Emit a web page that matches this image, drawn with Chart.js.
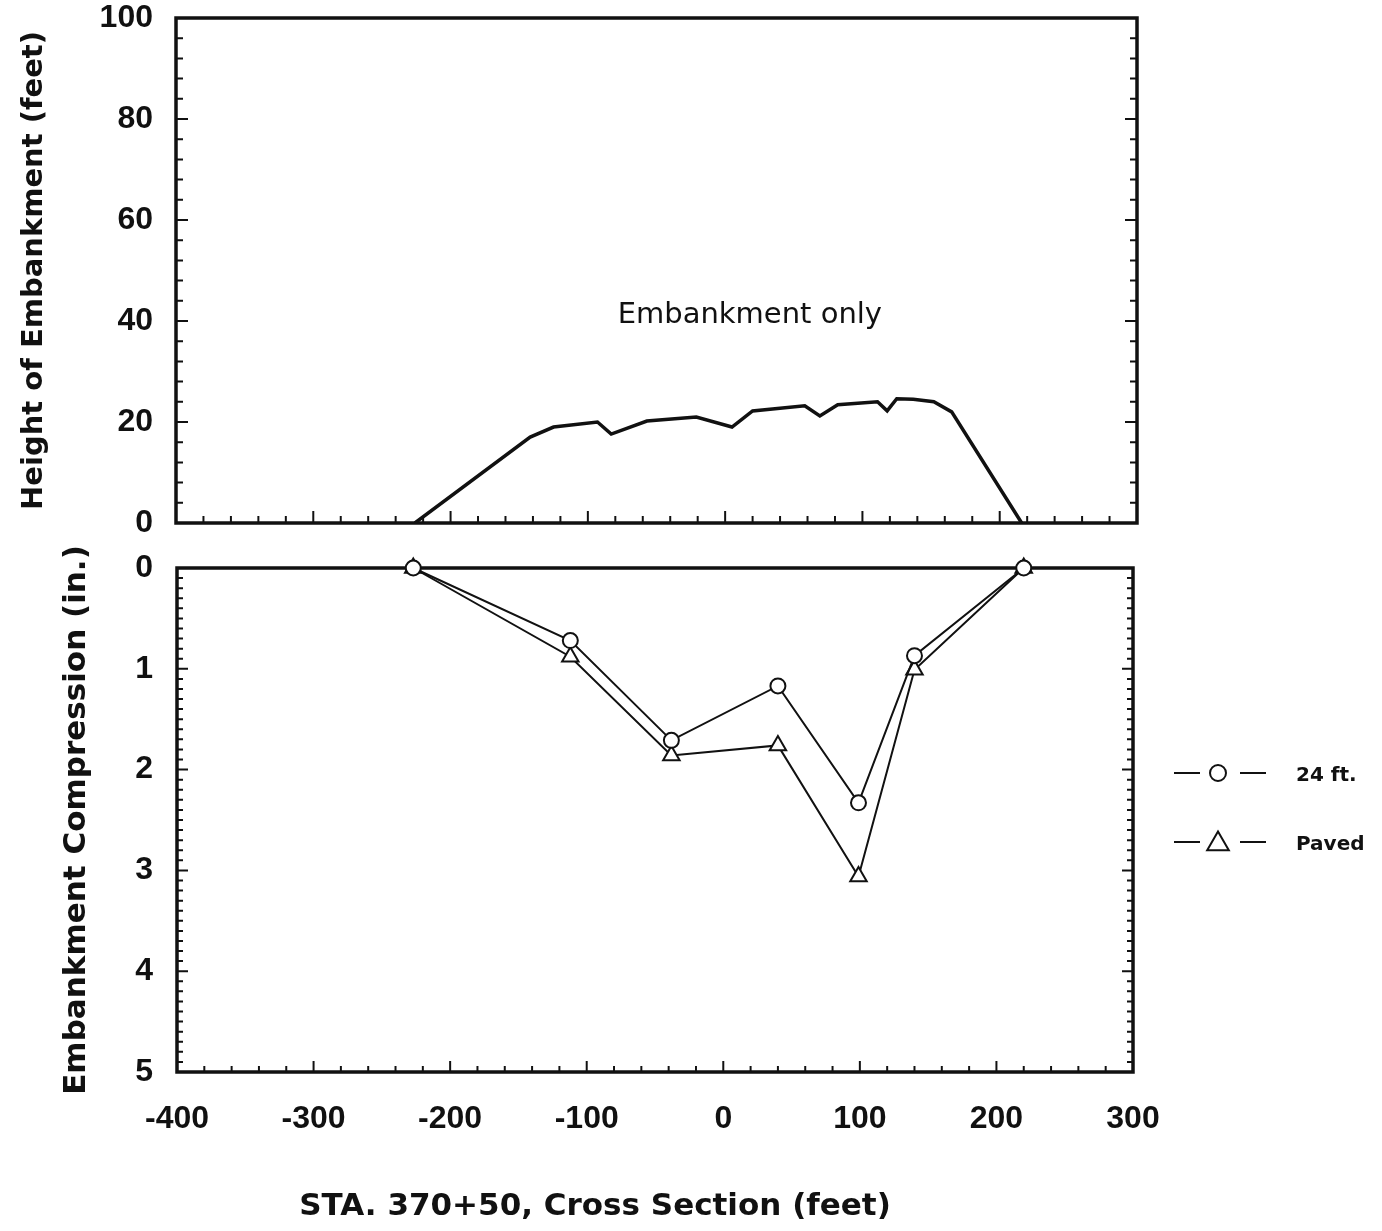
<!DOCTYPE html>
<html>
<head>
<meta charset="utf-8">
<title>STA. 370+50 Cross Section</title>
<script src="https://cdn.jsdelivr.net/npm/chart.js@4.4.1/dist/chart.umd.min.js"></script>
<style>
  html, body { margin: 0; padding: 0; background: #fff; }
  #wrap { position: relative; width: 1382px; height: 1231px; overflow: hidden; }
  canvas { position: absolute; left: 0; }
  #topChart { top: 0; }
  #bottomChart { top: 545px; }
</style>
</head>
<body>
<div id="wrap">
  <canvas id="topChart" width="1382" height="545"></canvas>
  <canvas id="bottomChart" width="1382" height="686"></canvas>
</div>
<script>
// --- data ---
// embankment profile (top panel)
const profileX = [-226, -142, -125, -93, -83, -57, -21, 5, 20, 58, 69, 82, 111, 118, 125, 137, 152, 165, 216];
const profileH = [0, 17.0, 19.0, 20.0, 17.6, 20.2, 21.0, 19.0, 22.2, 23.2, 21.2, 23.4, 24.0, 22.2, 24.6, 24.5, 24.0, 22.0, 0];

// compression (bottom panel)
const stations = [-227, -112, -38, 40, 99, 140, 220];
const comp24ft = [0, 0.72, 1.71, 1.17, 2.33, 0.87, 0];
const compPaved = [0, 0.88, 1.86, 1.76, 3.06, 1.01, 0];
const seriesNames = ['24 ft.', 'Paved'];

const xTicks = [-400, -300, -200, -100, 0, 100, 200, 300];
const heightTicks = [0, 20, 40, 60, 80, 100];
const compTicks = [0, 1, 2, 3, 4, 5];

const INK = '#111';
const tickFont = { family: 'Liberation Sans, Arial, sans-serif', weight: 'bold', size: 32, lineHeight: 1 };
const titleFamily = 'DejaVu Sans, sans-serif';

const toPoints = (xs, ys) => xs.map((x, i) => ({ x: x, y: ys[i] }));

// frame + inward ticks, drawn through the chart's own scales
const frameTicks = {
  id: 'frameTicks',
  beforeDatasetsDraw(chart, args, opts) {
    const { ctx, chartArea: a, scales } = chart;
    ctx.save();
    ctx.strokeStyle = INK;
    ctx.lineWidth = 3.5;
    ctx.strokeRect(a.left, a.top, a.right - a.left, a.bottom - a.top);

    ctx.lineWidth = 2;
    const isMajor = (v, step) => Math.abs(v / step - Math.round(v / step)) < 1e-6;

    const xs = scales.x;
    const nx = Math.round((xs.max - xs.min) / opts.xMinor);
    for (let i = 1; i < nx; i++) {
      const v = xs.min + i * opts.xMinor;
      const px = xs.getPixelForValue(v);
      const len = isMajor(v, opts.xMajor) ? opts.majorLen : opts.minorLen;
      ctx.beginPath();
      ctx.moveTo(px, a.bottom);
      ctx.lineTo(px, a.bottom - len);
      ctx.stroke();
    }

    const ys = scales.y;
    const ny = Math.round((ys.max - ys.min) / opts.yMinor);
    for (let i = 1; i < ny; i++) {
      const v = ys.min + i * opts.yMinor;
      const py = ys.getPixelForValue(v);
      const len = isMajor(v, opts.yMajor) ? opts.majorLen : opts.minorLen;
      ctx.beginPath();
      ctx.moveTo(a.left, py);
      ctx.lineTo(a.left + len, py);
      ctx.moveTo(a.right, py);
      ctx.lineTo(a.right - len, py);
      ctx.stroke();
    }
    ctx.restore();
  }
};

// free text: either in data units (x, y) or offset from the chart area (dx, dy)
const freeText = {
  id: 'freeText',
  afterDraw(chart, args, opts) {
    const { ctx, scales, chartArea: a } = chart;
    (opts.items || []).forEach(t => {
      const px = t.x !== undefined ? scales.x.getPixelForValue(t.x) : a.left + t.dx;
      const py = t.y !== undefined ? scales.y.getPixelForValue(t.y) : a.bottom + t.dy;
      ctx.save();
      ctx.fillStyle = INK;
      ctx.font = t.font;
      ctx.textAlign = 'center';
      ctx.textBaseline = 'middle';
      ctx.fillText(t.text, px, py);
      ctx.restore();
    });
  }
};

// legend on the right: —O—  24 ft.
const sideLegend = {
  id: 'sideLegend',
  afterDraw(chart, args, opts) {
    if (!opts.display) return;
    const { ctx } = chart;
    ctx.save();
    chart.data.datasets.forEach((ds, i) => {
      const y = opts.top + i * opts.gap;
      const isTri = ds.pointStyle === 'triangle';
      ctx.strokeStyle = INK;
      ctx.lineWidth = 2;
      ctx.beginPath();
      ctx.moveTo(opts.left, y);
      ctx.lineTo(opts.left + 26, y);
      ctx.moveTo(opts.left + 66, y);
      ctx.lineTo(opts.left + 92, y);
      ctx.stroke();
      ctx.fillStyle = '#fff';
      ctx.strokeStyle = INK;
      Chart.helpers.drawPoint(ctx, {
        pointStyle: ds.pointStyle, radius: isTri ? 12.5 : 8, rotation: 0, borderWidth: 2
      }, opts.left + 44, isTri ? y + 2 : y);
      ctx.fillStyle = INK;
      ctx.font = 'bold 20px "DejaVu Sans", sans-serif';
      ctx.textAlign = 'left';
      ctx.textBaseline = 'middle';
      ctx.fillText(ds.label, opts.left + 122, y + 3);
    });
    ctx.restore();
  }
};

Chart.register(frameTicks, freeText, sideLegend);

const common = {
  responsive: false,
  animation: false,
  events: [],
  layout: { padding: 0 }
};

// ---- top panel: height of embankment ----
new Chart(document.getElementById('topChart'), {
  type: 'scatter',
  data: {
    datasets: [{
      label: 'Embankment',
      data: toPoints(profileX, profileH),
      showLine: true,
      borderColor: INK,
      borderWidth: 3.5,
      pointRadius: 0,
      tension: 0
    }]
  },
  options: Object.assign({}, common, {
    plugins: {
      legend: { display: false },
      tooltip: { enabled: false },
      frameTicks: { xMinor: 20, xMajor: 100, yMinor: 4, yMajor: 20, minorLen: 7, majorLen: 12 },
      freeText: { items: [{ text: 'Embankment only', x: 18, y: 41, font: '29px "DejaVu Sans", sans-serif' }] },
      sideLegend: { display: false }
    },
    scales: {
      x: {
        type: 'linear', min: xTicks[0], max: xTicks[xTicks.length - 1],
        display: false
      },
      y: {
        type: 'linear', min: heightTicks[0], max: heightTicks[heightTicks.length - 1],
        afterBuildTicks: s => { s.ticks = heightTicks.map(v => ({ value: v })); },
        grid: { display: false, drawTicks: false },
        border: { display: false },
        ticks: { padding: 23, color: INK, font: tickFont },
        title: {
          display: true, text: 'Height of Embankment (feet)', color: INK,
          font: { family: titleFamily, weight: 'bold', size: 29, lineHeight: 1.2 },
          padding: { top: 17, bottom: 0 }
        },
        afterFit: s => {
          s.width = 176;
          s.paddingTop = 18;
          s.paddingBottom = 22;
          s.paddingRight = 245;
        }
      }
    }
  })
});

// ---- bottom panel: embankment compression ----
new Chart(document.getElementById('bottomChart'), {
  type: 'scatter',
  data: {
    datasets: [{
      label: seriesNames[0],
      data: toPoints(stations, comp24ft),
      showLine: true,
      borderColor: INK,
      borderWidth: 2,
      pointStyle: 'circle',
      pointRadius: 7.5,
      pointBorderWidth: 2,
      pointBackgroundColor: '#fff',
      pointBorderColor: INK,
      clip: false
    }, {
      label: seriesNames[1],
      data: toPoints(stations, compPaved),
      showLine: true,
      borderColor: INK,
      borderWidth: 2,
      pointStyle: 'triangle',
      pointRadius: 9.5,
      pointBorderWidth: 2,
      pointBackgroundColor: '#fff',
      pointBorderColor: INK,
      clip: false
    }]
  },
  options: Object.assign({}, common, {
    plugins: {
      legend: { display: false },
      tooltip: { enabled: false },
      frameTicks: { xMinor: 20, xMajor: 100, yMinor: 0.1, yMajor: 1, minorLen: 6, majorLen: 11 },
      freeText: { items: [{ text: 'STA. 370+50, Cross Section (feet)', dx: 418, dy: 135, font: 'bold 31px "DejaVu Sans", sans-serif' }] },
      sideLegend: { display: true, left: 1174, top: 228, gap: 69 }
    },
    scales: {
      x: {
        type: 'linear', min: xTicks[0], max: xTicks[xTicks.length - 1],
        afterBuildTicks: s => { s.ticks = xTicks.map(v => ({ value: v })); },
        grid: { display: false, drawTicks: false },
        border: { display: false },
        ticks: { padding: 31, color: INK, font: tickFont, maxRotation: 0, autoSkip: false },
        afterFit: s => {
          s.height = 159;
          s.paddingLeft = 0;
          s.paddingRight = 249;
        }
      },
      y: {
        type: 'linear', reverse: true,
        min: compTicks[0], max: compTicks[compTicks.length - 1],
        afterBuildTicks: s => { s.ticks = compTicks.map(v => ({ value: v })); },
        grid: { display: false, drawTicks: false },
        border: { display: false },
        ticks: { padding: 24, color: INK, font: tickFont },
        title: {
          display: true, text: 'Embankment Compression (in.)', color: INK,
          font: { family: titleFamily, weight: 'bold', size: 31, lineHeight: 1.2 },
          padding: { top: 58, bottom: 0 }
        },
        afterFit: s => {
          s.width = 177;
          s.paddingTop = 23;
          s.paddingBottom = 0;
          s.paddingRight = 249;
        }
      }
    }
  })
});
</script>
</body>
</html>
